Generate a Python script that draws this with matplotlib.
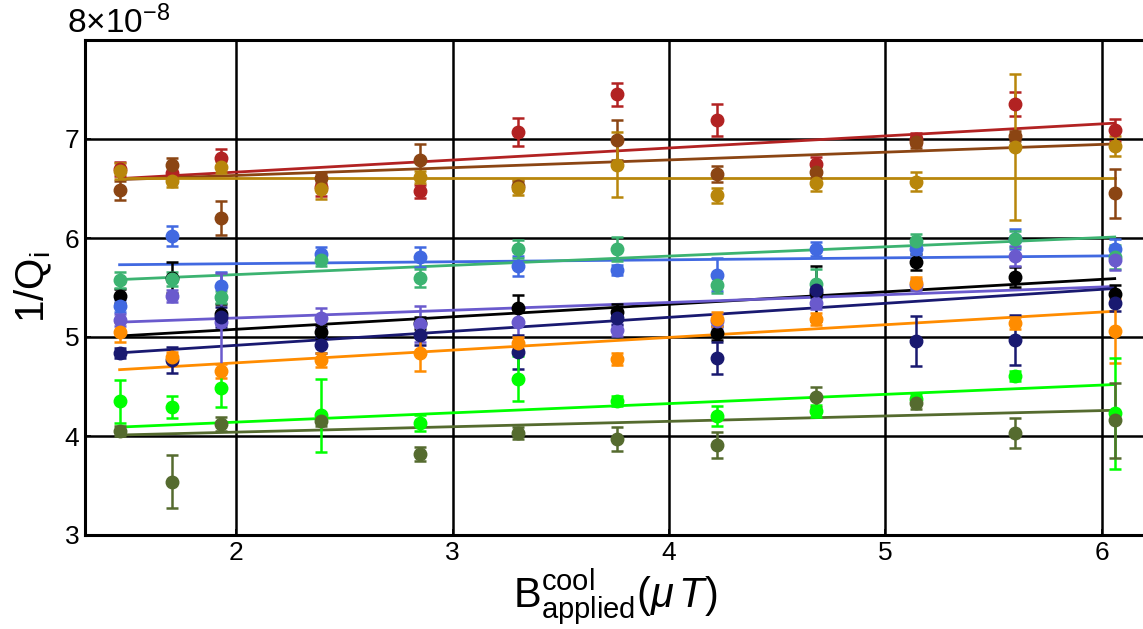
import numpy as np
import matplotlib.pyplot as plt

plt.rcParams['font.family'] = ['Liberation Sans', 'DejaVu Sans']
plt.rcParams['mathtext.fontset'] = 'custom'
plt.rcParams['mathtext.rm'] = 'Liberation Sans'
plt.rcParams['mathtext.it'] = 'Liberation Sans:italic'

# applied cooling field (uT)
B = [1.46, 1.70, 1.93, 2.39, 2.85, 3.30, 3.76, 4.22, 4.68, 5.14, 5.60, 6.06]
scale = 1e-8

# 1/Qi values in units of 1e-8, one list per series
names = ['black', 'red', 'brown', 'gold', 'blue', 'green', 'slate', 'navy', 'orange', 'lime', 'olive']
colors = {'black': 'black', 'red': '#B22222', 'brown': '#8B4513', 'gold': '#B8860B',
          'blue': '#4169E1', 'green': '#3CB371', 'slate': '#6A5ACD', 'navy': '#191970',
          'orange': '#FF8C00', 'lime': '#00FF00', 'olive': '#556B2F'}

q_black = [5.41, 5.60, 5.23, 5.05, 5.14, 5.29, 5.25, 5.04, 5.44, 5.76, 5.61, 5.43]
q_red = [6.70, 6.66, 6.81, 6.52, 6.47, 7.07, 7.45, 7.19, 6.75, 7.00, 7.35, 7.09]
q_brown = [6.48, 6.74, 6.20, 6.61, 6.79, 6.53, 6.99, 6.65, 6.67, 6.97, 7.03, 6.45]
q_gold = [6.68, 6.58, 6.72, 6.49, 6.62, 6.51, 6.74, 6.43, 6.56, 6.57, 6.92, 6.93]
q_blue = [5.31, 6.02, 5.52, 5.84, 5.81, 5.72, 5.68, 5.63, 5.89, 5.89, 5.99, 5.89]
q_green = [5.58, 5.59, 5.40, 5.78, 5.60, 5.89, 5.89, 5.53, 5.54, 5.97, 5.99, 5.81]
q_slate = [5.17, 5.41, 5.15, 5.19, 5.13, 5.15, 5.07, 5.16, 5.34, 5.53, 5.82, 5.78]
q_navy = [4.84, 4.77, 5.20, 4.92, 5.02, 4.85, 5.19, 4.79, 5.47, 4.96, 4.97, 5.34]
q_orange = [5.05, 4.80, 4.66, 4.77, 4.84, 4.94, 4.78, 5.18, 5.18, 5.55, 5.14, 5.06]
q_lime = [4.35, 4.29, 4.48, 4.21, 4.13, 4.58, 4.35, 4.20, 4.25, 4.37, 4.61, 4.23]
q_olive = [4.05, 3.54, 4.12, 4.15, 3.82, 4.03, 3.97, 3.91, 4.39, 4.33, 4.03, 4.16]

e_black = [0.07, 0.16, 0.10, 0.06, 0.06, 0.13, 0.08, 0.07, 0.28, 0.08, 0.10, 0.10]
e_red = [0.07, 0.07, 0.09, 0.10, 0.07, 0.14, 0.12, 0.16, 0.07, 0.06, 0.12, 0.11]
e_brown = [0.10, 0.07, 0.17, 0.05, 0.16, 0.05, 0.20, 0.08, 0.06, 0.06, 0.05, 0.25]
e_gold = [0.08, 0.06, 0.06, 0.10, 0.06, 0.08, 0.33, 0.08, 0.09, 0.10, 0.74, 0.10]
e_blue = [0.06, 0.10, 0.14, 0.07, 0.10, 0.10, 0.05, 0.17, 0.07, 0.05, 0.10, 0.10]
e_green = [0.08, 0.07, 0.06, 0.06, 0.09, 0.09, 0.12, 0.09, 0.15, 0.07, 0.08, 0.12]
e_slate = [0.06, 0.06, 0.50, 0.10, 0.18, 0.15, 0.06, 0.07, 0.06, 0.06, 0.10, 0.10]
e_navy = [0.05, 0.13, 0.10, 0.08, 0.10, 0.17, 0.07, 0.16, 0.07, 0.25, 0.25, 0.08]
e_orange = [0.10, 0.05, 0.07, 0.07, 0.18, 0.06, 0.06, 0.07, 0.06, 0.06, 0.06, 0.32]
e_lime = [0.22, 0.11, 0.19, 0.37, 0.08, 0.23, 0.05, 0.10, 0.06, 0.05, 0.05, 0.56]
e_olive = [0.05, 0.27, 0.07, 0.05, 0.07, 0.06, 0.12, 0.13, 0.10, 0.06, 0.15, 0.38]

# linear fit lines, value at first and last field
fit_lo = [5.01, 6.60, 6.59, 6.61, 5.73, 5.58, 5.15, 4.84, 4.67, 4.09, 4.01]
fit_hi = [5.59, 7.16, 6.95, 6.61, 5.82, 6.01, 5.51, 5.49, 5.26, 4.52, 4.26]

qs = [q_black, q_red, q_brown, q_gold, q_blue, q_green, q_slate, q_navy, q_orange, q_lime, q_olive]
es = [e_black, e_red, e_brown, e_gold, e_blue, e_green, e_slate, e_navy, e_orange, e_lime, e_olive]

fig = plt.figure(figsize=(11.43, 6.29), dpi=100)
ax = fig.add_axes([85 / 1143, 94 / 629, 1060 / 1143, 495 / 629])

for i, n in enumerate(names):
    c = colors[n]
    y = np.array(qs[i]) * scale
    err = np.array(es[i]) * scale
    ax.errorbar(B, y, yerr=err, fmt='o', color=c, ms=9, elinewidth=1.8,
                capsize=4, capthick=1.8, zorder=3)
    ax.plot([B[0], B[-1]], [fit_lo[i] * scale, fit_hi[i] * scale], color=c, lw=2, zorder=2)

ax.set_xlim(1.3, 6.2)
ax.set_ylim(3e-8, 8e-8)
ax.set_xticks([2, 3, 4, 5, 6])
ax.set_yticks([3e-8, 4e-8, 5e-8, 6e-8, 7e-8, 8e-8])
ax.set_yticklabels(['3', '4', '5', '6', '7', ''])
ax.text(-0.017, 1.0, r'$8{\times}10^{-8}$', transform=ax.transAxes, fontsize=24,
        ha='left', va='bottom')
ax.grid(True, color='black', lw=1.8)
ax.set_axisbelow(True)
for s in ax.spines.values():
    s.set_linewidth(2.2)
ax.tick_params(direction='in', length=4, width=1.2, labelsize=19, pad=4)

ax.set_xlabel(r'$\mathrm{B}_{\mathrm{applied}}^{\mathrm{cool}}(\mu\,T)$', fontsize=30, labelpad=2)
ax.set_ylabel(r'$1/\mathrm{Q}_{\mathrm{i}}$', fontsize=29, labelpad=8)

fig.savefig('out.png', dpi=100)
